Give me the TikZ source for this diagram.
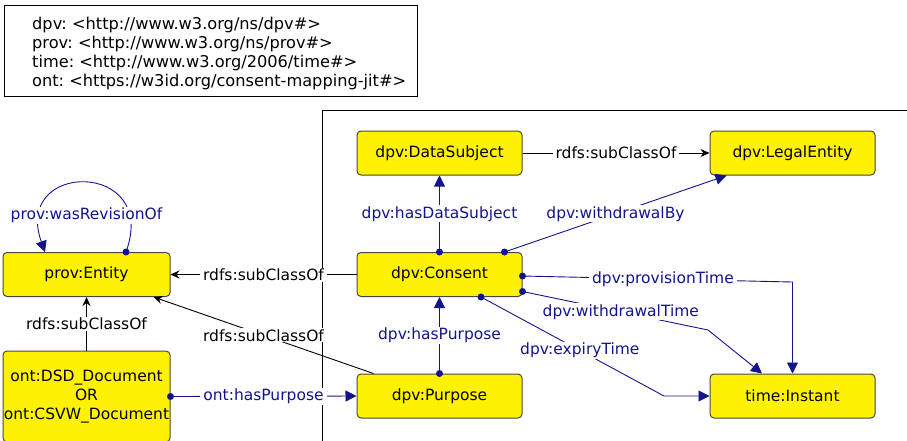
\documentclass[tikz,border=0pt]{standalone}
\usepackage{fontspec}
\setmainfont{DejaVu Sans}
\usetikzlibrary{arrows.meta}
\frenchspacing

\definecolor{propblue}{RGB}{20,20,140}
\definecolor{boxedge}{RGB}{70,70,70}

\begin{document}
\begin{tikzpicture}[x=1pt, y=-1pt, font=\fontsize{15.5}{19}\selectfont,
	cls/.style={draw=boxedge, fill=yellow, rounded corners=4pt, line width=1pt,
		minimum width=165pt, minimum height=44pt, inner sep=0pt},
	sub/.style={-{Stealth[length=9pt,width=8pt,inset=3pt]}, line width=0.9pt},
	prop/.style={-{Triangle[length=11pt,width=11pt]}, propblue, line width=0.9pt},
	lbl/.style={fill=white, inner xsep=3pt, inner ysep=1pt, text=black},
	plbl/.style={fill=white, inner xsep=3pt, inner ysep=1pt, text=propblue}]
		
		\clip (0,0) rectangle (907,440);
		
		% Префиксы
		\draw[line width=0.8pt] (4,5) rectangle (417,96);
		\node[anchor=west, inner sep=0pt, align=left,
		font=\fontsize{16.2}{19.2}\selectfont] (prefixes) at (32,53.5)
		{dpv: <http://www.w3.org/ns/dpv\#>\\
			prov: <http://www.w3.org/ns/prov\#>\\
			time: <http://www.w3.org/2006/time\#>\\
			ont: <https://w3id.org/consent-mapping-jit\#>};
		
		% Рамка
		\draw[line width=0.8pt] (322,450) -- (322,110) -- (920,110);
		
		% Классы
		\node[cls] (subject) at (439.5,153) {dpv:DataSubject};
		\node[cls] (legal) at (792.5,153) {dpv:LegalEntity};
		\node[cls] (consent) at (439.5,274.5) {dpv:Consent};
		\node[cls] (purpose) at (439.5,396) {dpv:Purpose};
		\node[cls] (instant) at (792.5,396) {time:Instant};
		\node[cls, minimum width=167pt] (entity) at (86.5,274.5) {prov:Entity};
		\node[cls, minimum width=167pt, minimum height=91pt, align=center] (doc)
		at (86.5,396.5) {ont:DSD\_Document\\OR\\ont:CSVW\_Document};
		
		% Точки начала свойств
		\coordinate (rev) at ([xshift=39.5pt]entity.north);
		\coordinate (bysubj) at (consent.north);
		\coordinate (byent) at ([xshift=-18pt]consent.north east);
		\coordinate (prov) at ([yshift=-1.5pt]consent.east);
		\coordinate (wtime) at ([yshift=-17pt]consent.east);
		\coordinate (exp) at ([xshift=41.5pt]consent.south);
		\coordinate (purp) at (purpose.north);
		\coordinate (docp) at (doc.east);
		
		% Изломы
		\coordinate (provbend) at (792.5,282);
		\coordinate (wbend) at (708,330);
		\coordinate (expbend) at (664,396);
		
		% rdfs:subClassOf
		\draw[sub] (consent) -- node[lbl] {rdfs:subClassOf} (entity);
		\draw[sub] (subject) -- node[lbl] {rdfs:subClassOf} (legal);
		\draw[sub] (doc) -- node[lbl] {rdfs:subClassOf} (entity);
		\draw[sub] ([xshift=17pt]purpose.north west) -- node[lbl] {rdfs:subClassOf}
		([xshift=-17pt]entity.south east);
		
		% Свойства
		\draw[prop] (rev) .. controls (160,160) and (12,160) .. ([xshift=-41.5pt]entity.north);
		\node[plbl] (revlabel) at (86.5,215) {prov:wasRevisionOf};
		
		\draw[prop] (bysubj) -- node[plbl] {dpv:hasDataSubject} (subject.south);
		\draw[prop] (byent) -- node[plbl] {dpv:withdrawalBy} ([xshift=17pt]legal.south west);
		\draw[prop] (purp) -- node[plbl] {dpv:hasPurpose} (consent.south);
		\draw[prop] (docp) -- node[plbl] {ont:hasPurpose} (purpose.west);
		
		\draw[prop] (prov) -- node[plbl, pos=0.52] {dpv:provisionTime} (provbend)
		-- (instant.north);
		\draw[prop] (wtime) -- node[plbl, pos=0.53] {dpv:withdrawalTime} (wbend)
		-- ([xshift=-30.5pt]instant.north);
		\draw[prop] (exp) -- node[plbl, pos=0.54] {dpv:expiryTime} (expbend)
		-- (instant.west);
		
		\foreach \p in {rev, bysubj, byent, prov, wtime, exp, purp, docp}
		\fill[propblue] (\p) circle (3.5pt);
		
\end{tikzpicture}
\end{document}
